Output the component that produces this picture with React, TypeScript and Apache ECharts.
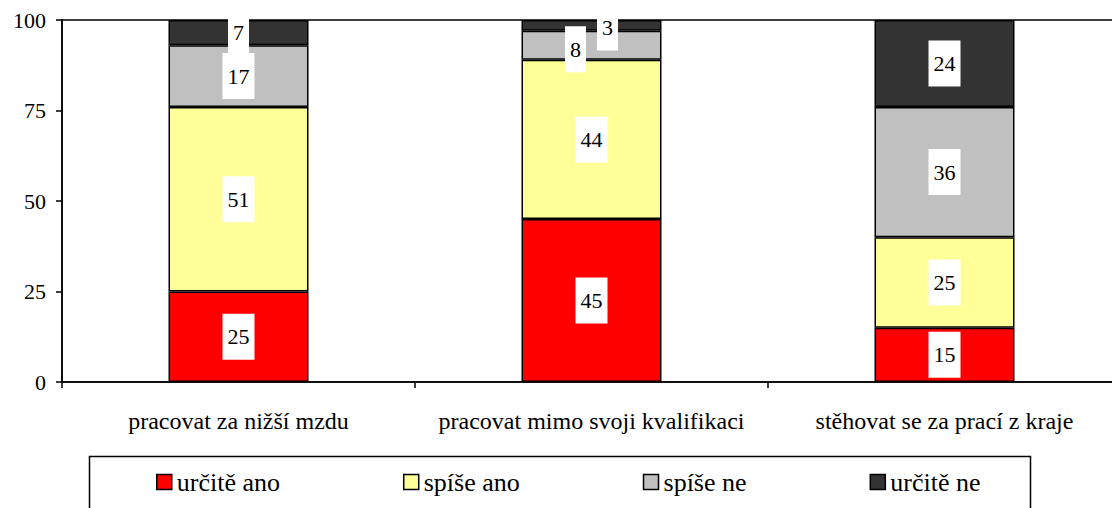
import React, { useEffect, useRef } from "react";
import * as echarts from "echarts";

const categories = [
  "pracovat za nižší mzdu",
  "pracovat mimo svoji kvalifikaci",
  "stěhovat se za prací z kraje",
];
const seriesNames = ["určitě ano", "spíše ano", "spíše ne", "určitě ne"];
const urciteAno = [25, 45, 15];
const spiseAno = [51, 44, 25];
const spiseNe = [17, 8, 36];
const urciteNe = [7, 3, 24];
const colors = ["#FF0000", "#FFFF99", "#C0C0C0", "#333333"];
const yTicks = [0, 25, 50, 75, 100];
// label nudges (Excel moved overlapping labels sideways)
const labelOffsets: Record<string, [number, number]> = {
  "2-1": [-16, 4],
  "3-1": [16, 2],
};

const FONT = "Liberation Serif";

export default function App() {
  const ref = useRef<HTMLDivElement>(null);
  useEffect(() => {
    if (!ref.current) return;
    const chart = echarts.init(ref.current, null, { renderer: "svg" });
    const all = [urciteAno, spiseAno, spiseNe, urciteNe];
    const series = all.map((vals, si) => ({
      name: seriesNames[si],
      type: "bar",
      stack: "total",
      barWidth: 140,
      itemStyle: { color: colors[si], borderColor: "#000", borderWidth: 1.5 },
      label: {
        show: true,
        position: "inside",
        color: "#000",
        fontFamily: FONT,
        fontSize: 22,
        backgroundColor: "#fff",
        padding: [12, 5],
      },
      data: vals.map((v, ci) => {
        const off = labelOffsets[`${si}-${ci}`];
        return off ? { value: v, label: { offset: off } } : v;
      }),
    }));
    chart.setOption({
      animation: false,
      textStyle: { fontFamily: FONT },
      grid: {
        left: 62,
        top: 20,
        width: 1059,
        height: 362,
        outerBoundsMode: "none",
        containLabel: false,
        show: true,
        borderColor: "#000",
        borderWidth: 1.5,
        backgroundColor: "transparent",
      },
      legend: {
        data: seriesNames,
        left: 151,
        top: 464,
        itemWidth: 15,
        itemHeight: 15,
        itemGap: 123,
        icon: "rect",
        itemStyle: { borderColor: "#000", borderWidth: 1.5 },
        textStyle: { fontFamily: FONT, fontSize: 26, color: "#000" },
      },
      graphic: [
        {
          type: "rect",
          shape: { x: 89.5, y: 456.5, width: 941, height: 60 },
          style: { fill: "none", stroke: "#000", lineWidth: 1.5 },
          silent: true,
        },
      ],
      xAxis: {
        type: "category",
        data: categories,
        axisLine: { lineStyle: { color: "#000", width: 1.5 } },
        axisTick: { show: true, length: 6, alignWithLabel: false, lineStyle: { color: "#000", width: 1.5 } },
        axisLabel: { color: "#000", fontFamily: FONT, fontSize: 24, margin: 27, interval: 0 },
        splitLine: { show: false },
      },
      yAxis: {
        type: "value",
        min: yTicks[0],
        max: yTicks[yTicks.length - 1],
        interval: 25,
        axisLine: { show: true, lineStyle: { color: "#000", width: 1.5 } },
        axisTick: { show: true, length: 6, lineStyle: { color: "#000", width: 1.5 } },
        axisLabel: { color: "#000", fontFamily: FONT, fontSize: 22, margin: 16 },
        splitLine: { show: false },
      },
      series,
    });
    return () => chart.dispose();
  }, []);
  return (
    <div
      ref={ref}
      style={{ position: "fixed", left: 0, top: 0, width: 1112, height: 508, background: "#fff" }}
    />
  );
}
